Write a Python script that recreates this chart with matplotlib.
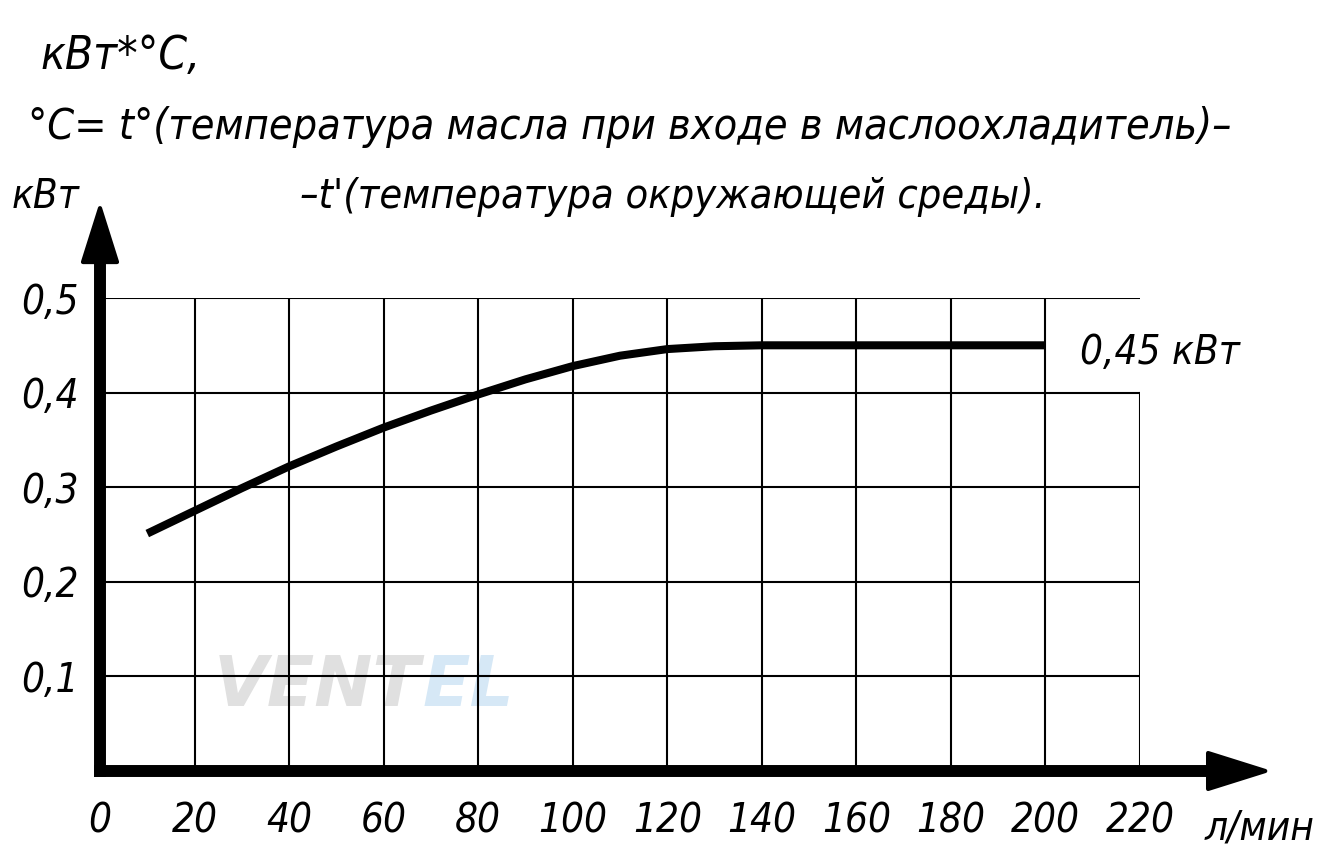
import matplotlib
matplotlib.use("Agg")
import matplotlib.pyplot as plt
from matplotlib.patches import Polygon
import numpy as np

# расход масла, л/мин  ->  теплосъём, кВт*°С
flow = [10, 20, 30, 40, 50, 60, 70, 80, 90, 100, 110, 120, 130, 140, 200]
power = [0.251, 0.275, 0.299, 0.322, 0.343, 0.363, 0.381, 0.398, 0.414,
         0.428, 0.439, 0.446, 0.449, 0.450, 0.450]

xticks = [0, 20, 40, 60, 80, 100, 120, 140, 160, 180, 200, 220]
xlabels = ['0', '20', '40', '60', '80', '100', '120', '140', '160', '180', '200', '220']
yticks = [0.1, 0.2, 0.3, 0.4, 0.5]
ylabels = ['0,1', '0,2', '0,3', '0,4', '0,5']

head1 = 'кВт*°С,'
head2 = '°С= t°(температура масла при входе в маслоохладитель)–'
head3 = '–t\'(температура окружающей среды).'
ylab = 'кВт'
xunit = 'л/мин'
note = '0,45 кВт'

plt.rcParams['font.family'] = ['DejaVu Sans']
plt.rcParams['font.style'] = 'italic'
plt.rcParams['font.stretch'] = 'condensed'

W, H = 1333, 855
fig = plt.figure(figsize=(W / 100, H / 100), dpi=100)
ax = fig.add_axes([100 / W, 84 / H, 1040 / W, 473 / H])
ax.set_xlim(0, 220)
ax.set_ylim(0, 0.5)
for s in ax.spines.values():
    s.set_visible(False)

renderer = fig.canvas.get_renderer()


def fit(t, width):
    # подгоняем кегль под ширину надписи на картинке
    bb = t.get_window_extent(renderer)
    t.set_fontsize(t.get_fontsize() * width / bb.width)
    return t.get_fontsize()


# водяной знак
wm = ax.text(24, 0.089, 'VENT', fontsize=50, fontweight='heavy', fontstretch='normal',
             color='#e0e0e0', ha='left', va='center', zorder=0)
ax.annotate('EL', xy=(1, 0.5), xycoords=wm, xytext=(2, 0), textcoords='offset points',
            fontsize=50, fontweight='heavy', fontstretch='normal', color='#d6e8f6',
            ha='left', va='center', zorder=0)

# сетка
for x in xticks[1:-1]:
    ax.plot([x, x], [0, 0.5], color='black', lw=1.5, zorder=1)
ax.plot([220, 220], [0, 0.4], color='black', lw=1.5, zorder=1)
for y in yticks:
    ax.plot([0, 220], [y, y], color='black', lw=1.5, zorder=1)

# оси со стрелками
ax.plot([-1.2, 234.5], [0, 0], color='black', lw=8.6, solid_capstyle='butt', zorder=3, clip_on=False)
ax.plot([0, 0], [-0.006, 0.54], color='black', lw=8.6, solid_capstyle='butt', zorder=3, clip_on=False)
ax.add_patch(Polygon([[-3.6, 0.538], [3.6, 0.538], [0, 0.595]], closed=True,
                     fc='black', ec='black', lw=3, joinstyle='round', clip_on=False, zorder=3))
ax.add_patch(Polygon([[234.4, -0.019], [234.4, 0.019], [246.5, 0]], closed=True,
                     fc='black', ec='black', lw=3, joinstyle='round', clip_on=False, zorder=3))

# кривая
ax.plot(flow, power, color='black', lw=5.8, solid_capstyle='butt',
        solid_joinstyle='round', zorder=2)

fs = 29
# подпись 0,45 кВт
fig.text(1080 / W, 1 - 364 / H, note, ha='left', va='baseline', fontsize=fs)

# подписи делений
ax.set_xticks(xticks)
ax.set_xticklabels(xlabels, fontsize=fs)
ax.set_yticks(yticks)
ax.set_yticklabels(ylabels, fontsize=fs)
ax.tick_params(axis='x', length=0, pad=22)
ax.tick_params(axis='y', length=0, pad=15)
fig.text(1205 / W, 1 - 839 / H, xunit, ha='left', va='baseline', fontsize=fs)

# заголовок
t1 = fig.text(40 / W, 1 - 69 / H, head1, ha='left', va='baseline', fontsize=fs)
fit(t1, 160)
t2 = fig.text(28 / W, 1 - 139 / H, head2, ha='left', va='baseline', fontsize=30)
fit(t2, 1202)
t3 = fig.text(300 / W, 1 - 208 / H, head3, ha='left', va='baseline', fontsize=30)
fit(t3, 745)
fig.text(12 / W, 1 - 208 / H, ylab, ha='left', va='baseline', fontsize=fs)

fig.savefig('out.png', dpi=100, facecolor='white')
